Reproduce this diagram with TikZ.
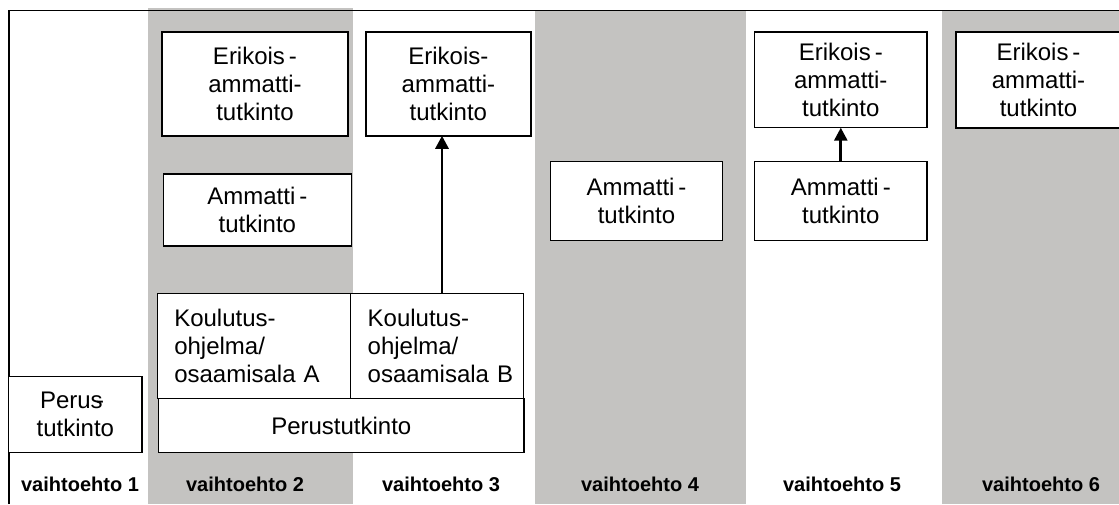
\documentclass[tikz,border=0pt]{standalone}
\usepackage{fontspec}
\setmainfont{Liberation Sans}
\usetikzlibrary{arrows.meta, positioning}
\definecolor{bandgray}{RGB}{196,195,193}

\begin{document}
\begin{tikzpicture}[x=0.5pt, y=-0.5pt,
    box/.style={draw, line width=0.75pt, fill=white, align=center, inner sep=0pt, outer sep=0pt,
        font=\fontsize{12}{14}\selectfont},
    leftbox/.style={box, align=left, inner xsep=8.5pt},
    band/.style={fill=bandgray},
    lbl/.style={font=\fontsize{10}{12}\selectfont\bfseries, anchor=base},
    arr/.style={-{Triangle[width=6.5pt,length=6.5pt]}, line width=1.4pt}
]
    % Background and bands
    \fill[white] (0,0) rectangle (1119,504);
    \useasboundingbox (0,0) rectangle (1119,504);
    \fill[band] (148.3,8.3) rectangle (353,504);
    \fill[band] (535,10.7) rectangle (745.7,504);
    \fill[band] (942.3,10.7) rectangle (1119,504);
    \draw[line width=0.7pt] (9,504) -- (9,10.7) -- (1119,10.7);

    % Nodes
    \node[box, minimum width=66.8pt, minimum height=38pt] (perus1) at (75.4,414.7) {Perus\kern-.28em-\kern.28em\\tutkinto};

    \node[box, minimum width=93pt, minimum height=51.85pt] (erik2) at (255,83.9) {Erikois\,-\\ammatti-\\tutkinto};
    \node[box, minimum width=94pt, minimum height=35.85pt] (amm2) at (257.4,209.9) {Ammatti\,-\\tutkinto};
    \node[leftbox, text width=79.7pt, minimum height=52.5pt] (kouluA) at (254,345.8) {Koulutus-\\ohjelma/\\osaamisala~A};
    \node[leftbox, text width=69.4pt, minimum height=52.5pt, right=0pt of kouluA] (kouluB) {Koulutus-\\ohjelma/\\osaamisala~B};
    \node[box, minimum width=182.6pt, minimum height=27.2pt] (perus) at (341.3,425.5) {Perustutkinto};
    \node[box, minimum width=82.35pt, minimum height=51.85pt] (erik3) at (448.4,83.9) {Erikois-\\ammatti-\\tutkinto};

    \node[box, minimum width=86.2pt, minimum height=39.5pt] (amm4) at (636.5,201.2) {Ammatti\,-\\tutkinto};

    \node[box, minimum width=86.25pt, minimum height=39.5pt] (amm5) at (840.8,201.2) {Ammatti\,-\\tutkinto};
    \node[box, minimum width=86.25pt, minimum height=47.85pt, above=17pt of amm5] (erik5) {Erikois\,-\\ammatti-\\tutkinto};

    \node[box, minimum width=82.5pt, minimum height=47.85pt] (erik6) at (1038.5,79.9) {Erikois\,-\\ammatti-\\tutkinto};

    % Lines
    \draw[arr] ([xshift=2.45pt]kouluB.north) -- ([xshift=2.45pt]kouluB.north |- erik3.south);
    \draw[arr] (amm5) -- (erik5);

    % Labels
    \foreach \x/\n in {80/1, 245/2, 441/3, 640/4, 842/5, 1041/6}
        \node[lbl] (vaiht\n) at (\x,491.5) {vaihtoehto \n};
\end{tikzpicture}
\end{document}
